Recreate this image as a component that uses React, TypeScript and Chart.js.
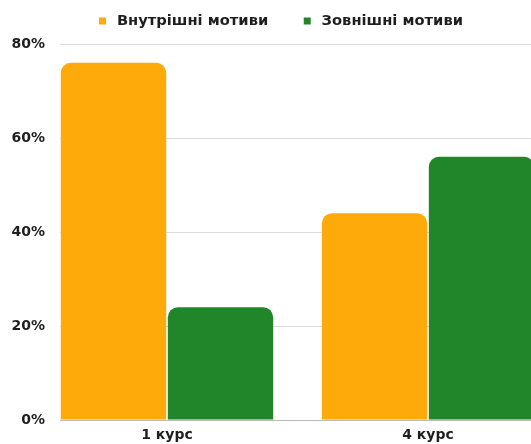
import React, { useEffect, useRef } from "react";
import { Chart, registerables } from "chart.js";

Chart.register(...registerables);

// Study years and the share of each motive type (percent)
const courses = ["1 курс", "4 курс"];
const internalShare = [76, 44];
const externalShare = [24, 56];
const seriesNames = ["Внутрішні мотиви", "Зовнішні мотиви"];
const yTicks = [0, 20, 40, 60, 80];

const ORANGE = "#FEAA0B";
const GREEN = "#21862A";
const FONT = "'DejaVu Sans', sans-serif";
const GROUP_SHARE = 0.82;

export default function App() {
  const canvasRef = useRef<HTMLCanvasElement | null>(null);

  useEffect(() => {
    document.body.style.margin = "0";
    const canvas = canvasRef.current;
    if (!canvas) return;

    const toPoints = (vals: number[]) => vals.map((v, i) => ({ x: i, y: v }));
    const topCorners = { topLeft: 10, topRight: 10, bottomLeft: 0, bottomRight: 0 };

    const chart = new Chart(canvas, {
      type: "bar",
      data: {
        datasets: [
          {
            label: seriesNames[0],
            data: toPoints(internalShare),
            backgroundColor: ORANGE,
            borderRadius: topCorners,
            borderSkipped: false,
            categoryPercentage: GROUP_SHARE,
            barPercentage: 0.985,
          },
          {
            label: seriesNames[1],
            data: toPoints(externalShare),
            backgroundColor: GREEN,
            borderRadius: topCorners,
            borderSkipped: false,
            categoryPercentage: GROUP_SHARE,
            barPercentage: 0.985,
          },
        ],
      },
      options: {
        responsive: false,
        animation: false,
        devicePixelRatio: 1,
        layout: { padding: { top: -18.35, right: 3.5, bottom: 0, left: 0 } },
        plugins: {
          tooltip: { enabled: false },
          legend: {
            position: "top",
            labels: {
              usePointStyle: true,
              pointStyle: "rect",
              boxWidth: 14,
              boxHeight: 7,
              padding: 32,
              color: "#1f1f1f",
              font: { family: FONT, size: 14.7, weight: "bold" },
            },
          },
        },
        scales: {
          x: {
            type: "linear",
            position: "bottom",
            offset: false,
            bounds: "data",
            min: -GROUP_SHARE / 2,
            max: courses.length - 0.5,
            grid: { display: false, drawTicks: false, offset: false },
            border: { display: false },
            afterBuildTicks: (scale: any) => {
              scale.ticks = courses.map((_, i) => ({ value: i }));
            },
            afterFit: (scale: any) => {
              scale.height = 24;
            },
            ticks: {
              padding: 7,
              color: "#1f1f1f",
              font: { family: FONT, size: 14, weight: "bold" },
              callback: (v: any) => courses[Number(v)] ?? "",
            },
          },
          gap: {
            type: "linear",
            position: "top",
            display: true,
            offset: false,
            grid: { display: false, drawTicks: false },
            border: { display: false },
            ticks: { display: false },
            afterFit: (scale: any) => {
              scale.height = 5.65;
            },
          },
          y: {
            min: 0,
            max: 80,
            afterBuildTicks: (scale: any) => {
              scale.ticks = yTicks.map((v) => ({ value: v }));
            },
            afterFit: (scale: any) => {
              scale.width = 60;
            },
            grid: {
              drawTicks: false,
              color: (ctx: any) => (ctx.tick && ctx.tick.value === 0 ? "#b9b9b9" : "#dddddd"),
              lineWidth: 1,
            },
            border: { display: false },
            ticks: {
              padding: 15,
              color: "#1f1f1f",
              font: { family: FONT, size: 14, weight: "bold" },
              callback: (v: any) => `${v}%`,
            },
          },
        },
      },
    });

    return () => chart.destroy();
  }, []);

  return (
    <div style={{ width: 531, height: 444, overflow: "hidden", position: "relative" }}>
      <canvas ref={canvasRef} width={562} height={444} style={{ display: "block" }} />
    </div>
  );
}
